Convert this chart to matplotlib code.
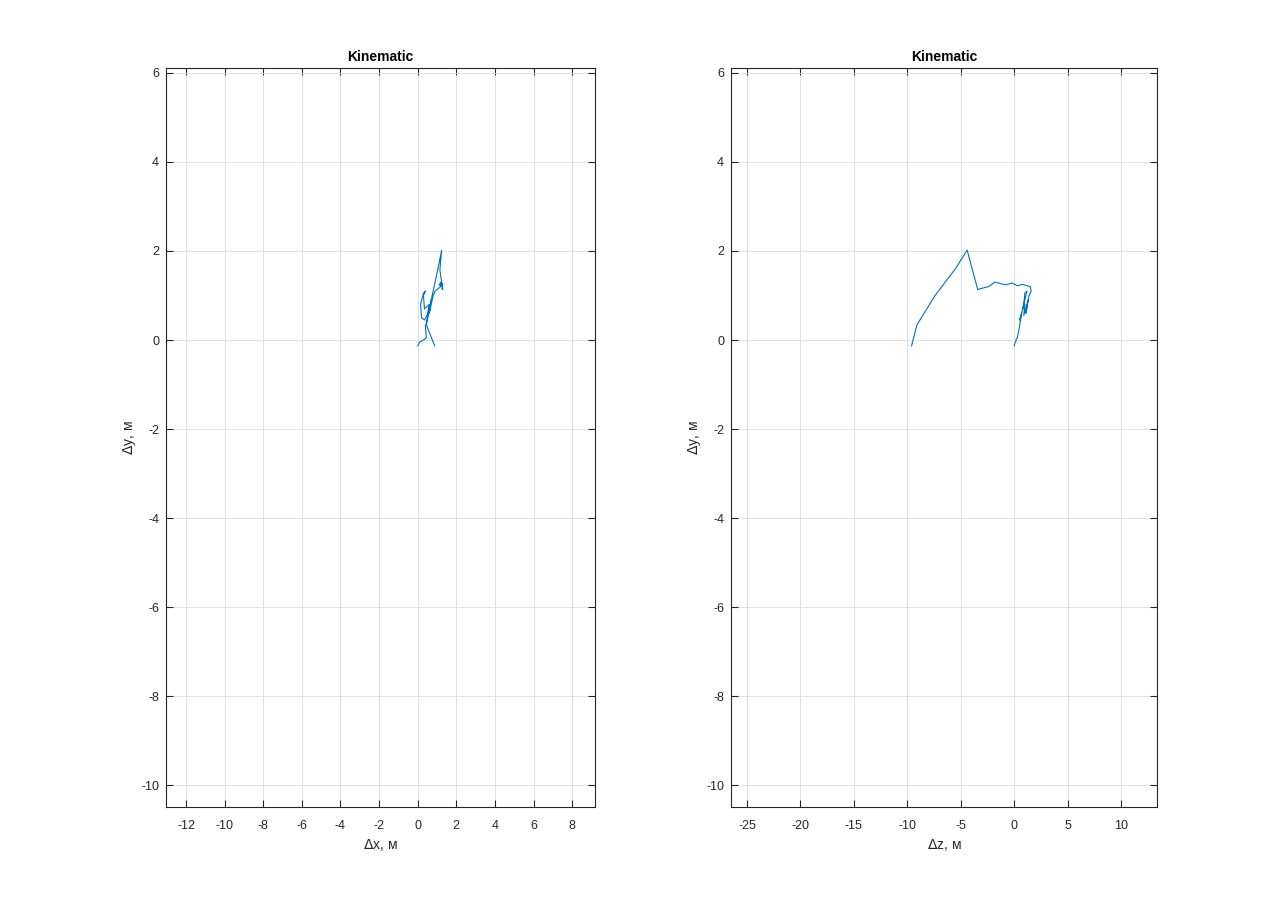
import numpy as np
import matplotlib.pyplot as plt

plt.rcParams['font.family'] = ['Liberation Sans', 'DejaVu Sans']
plt.rcParams['axes.unicode_minus'] = False

# trajectory offsets, metres
dx = [0.0, 0.1, 0.2, 0.3, 0.45, 0.4, 0.55, 0.35, 0.2, 0.15, 0.3, 0.4, 0.3, 0.35,
      0.6, 0.5, 0.7, 0.6, 0.8, 0.9, 1.2, 1.1, 1.25, 1.15, 1.3, 1.2, 1.3, 1.25,
      1.3, 1.15, 1.24, 1.05, 0.75, 0.45, 0.88]
dy = [-0.13, -0.05, -0.02, 0.0, 0.05, 0.3, 0.6, 0.45, 0.5, 0.8, 1.05, 1.1, 1.0, 0.7,
      0.8, 0.55, 0.9, 0.6, 1.0, 1.1, 1.2, 1.25, 1.22, 1.28, 1.24, 1.3, 1.2, 1.15,
      1.13, 1.57, 2.02, 1.6, 1.0, 0.34, -0.13]
dz = [0.0, 0.1, 0.2, 0.15, 0.3, 0.5, 0.7, 0.5, 0.6, 0.9, 1.0, 1.2, 1.1, 0.8,
      1.0, 0.9, 1.3, 1.1, 1.4, 1.6, 1.5, 0.8, 0.3, -0.2, -0.8, -1.8, -2.4, -3.2,
      -3.4, -3.9, -4.4, -5.5, -7.4, -9.1, -9.6]

line_color = '#0072BD'

fig = plt.figure(figsize=(12.8, 9.08), dpi=100)
ax1 = fig.add_axes([0.1297, 0.1112, 0.3352, 0.8139])
ax2 = fig.add_axes([0.5711, 0.1112, 0.3328, 0.8139])


def style(ax):
    ax.grid(True, color='#dcdcdc', linewidth=0.6)
    ax.set_axisbelow(True)
    ax.tick_params(direction='in', top=True, right=True, length=5,
                   labelsize=9, colors='#262626', width=0.8)
    ax.tick_params(axis='x', pad=9)
    ax.tick_params(axis='y', pad=5)
    for s in ax.spines.values():
        s.set_color('#262626')
        s.set_linewidth(0.8)
    ax.set_title('Kinematic', fontsize=10, fontweight='bold', pad=5)
    ax.set_ylim(-10.49, 6.11)
    ax.set_yticks(np.arange(-10, 7, 2))
    ax.set_ylabel(r'$\Delta$y, м', fontsize=10, color='#262626', labelpad=2)


ax1.plot(dx, dy, color=line_color, linewidth=0.8)
style(ax1)
ax1.set_xlim(-13.04, 9.19)
ax1.set_xticks(np.arange(-12, 9, 2))
ax1.set_xlabel(r'$\Delta$x, м', fontsize=10, color='#262626', labelpad=4)

ax2.plot(dz, dy, color=line_color, linewidth=0.8)
style(ax2)
ax2.set_xlim(-26.5, 13.37)
ax2.set_xticks(np.arange(-25, 11, 5))
ax2.set_xlabel(r'$\Delta$z, м', fontsize=10, color='#262626', labelpad=4)

fig.savefig('out.png', dpi=100)
